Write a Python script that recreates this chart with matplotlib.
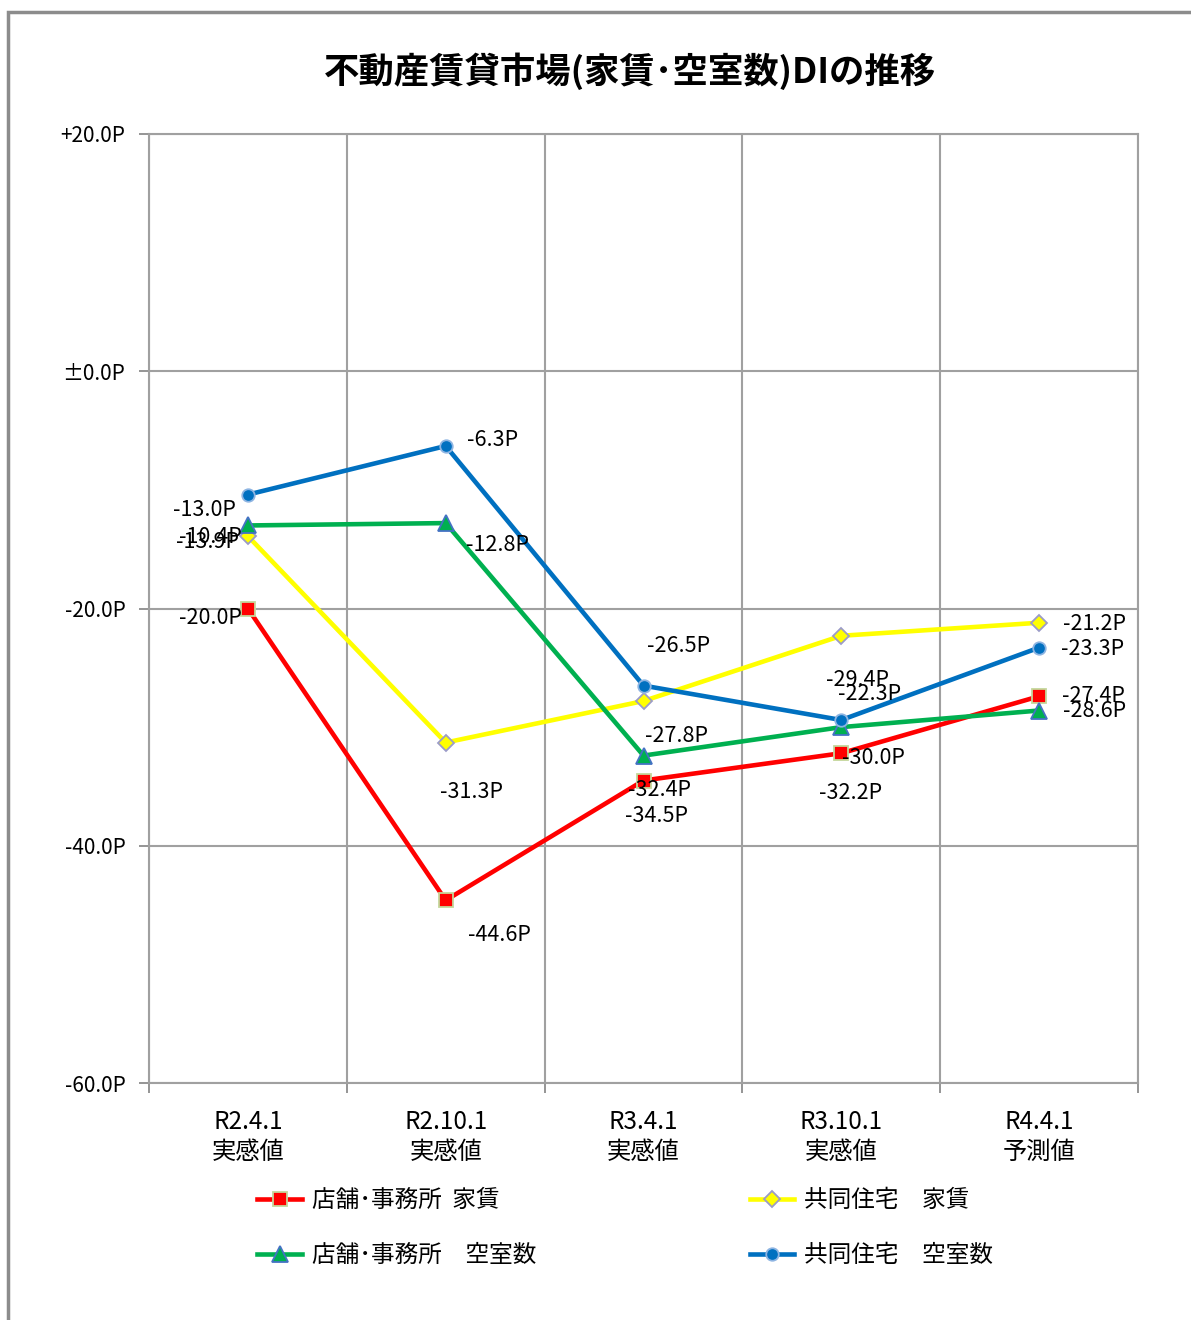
import matplotlib.pyplot as plt
from matplotlib.patches import Rectangle

plt.rcParams['font.family'] = ['Noto Sans CJK JP', 'DejaVu Sans']

# 調査時点
periods = ["R2.4.1\n実感値", "R2.10.1\n実感値", "R3.4.1\n実感値", "R3.10.1\n実感値", "R4.4.1\n予測値"]

# DI値 (ポイント)
shop_rent = [-20.0, -44.6, -34.5, -32.2, -27.4]
apt_rent = [-13.9, -31.3, -27.8, -22.3, -21.2]
shop_vacancy = [-13.0, -12.8, -32.4, -30.0, -28.6]
apt_vacancy = [-10.4, -6.3, -26.5, -29.4, -23.3]

yticks = [20, 0, -20, -40, -60]
ytick_labels = ["+20.0P", "±0.0P", "-20.0P", "-40.0P", "-60.0P"]

# ラベル位置 (点からのずらし, pixel)
shop_rent_off = [(-37, -9), (54, -35), (13, -35), (9, -40), (54, 0)]
apt_rent_off = [(-40, -6), (26, -49), (33, -35), (28, -58), (55, -1)]
shop_vac_off = [(-43, 15), (52, -22), (16, -34), (32, -31), (55, 0)]
apt_vac_off = [(-38, -42), (47, 6), (35, 40), (16, 40), (53, -1)]

fig = plt.figure(figsize=(11.91, 13.2), dpi=100)
ax = fig.add_axes([149 / 1191, 1 - 1083 / 1320, (1138 - 149) / 1191, (1083 - 134) / 1320])

# 外枠
fig.patches.append(Rectangle((8 / 1191, -0.1), 1.2, 1 - 12 / 1320 + 0.1, transform=fig.transFigure,
                             fill=False, edgecolor='#8c8c8c', linewidth=2.5, zorder=0))

x = [i + 0.5 for i in range(len(periods))]

series = [
    (shop_rent, "店舗･事務所  家賃", '#ff0000', 's', '#c4d79b', 9.5, shop_rent_off),
    (apt_rent, "共同住宅　家賃", '#ffff00', 'D', '#9b9bc8', 8, apt_rent_off),
    (shop_vacancy, "店舗･事務所　空室数", '#00b050', '^', '#4472c4', 12, shop_vac_off),
    (apt_vacancy, "共同住宅　空室数", '#0070c0', 'o', '#8db4e2', 9, apt_vac_off),
]

handles = []
for vals, label, color, marker, edge, ms, offs in series:
    h, = ax.plot(x, vals, color=color, linewidth=3.3, marker=marker, markersize=ms,
                 markerfacecolor=color, markeredgecolor=edge, markeredgewidth=1.3,
                 label=label, zorder=3)
    handles.append(h)
    for xi, v, off in zip(x, vals, offs):
        ax.annotate(f"{v:.1f}P", (xi, v), xytext=off, textcoords='offset pixels',
                    ha='center', va='center', fontsize=15.5, zorder=5)

ax.set_xlim(0, 5)
ax.set_ylim(-60, 20)
ax.set_yticks(yticks)
ax.set_yticklabels(ytick_labels, fontsize=15)
ax.set_xticks(range(6))
ax.set_xticklabels([])
ax.set_xticks(x, minor=True)
ax.set_xticklabels(periods, minor=True, fontsize=17.5, linespacing=1.2)
ax.tick_params(axis='x', which='minor', length=0, pad=19)
ax.tick_params(axis='x', which='major', length=7, color='#8c8c8c', width=1.3)
ax.tick_params(axis='y', length=7, color='#8c8c8c', width=1.3, pad=10)

ax.grid(True, which='major', color='#a0a0a0', linewidth=1.5)
ax.set_axisbelow(True)
for sp in ax.spines.values():
    sp.set_color('#a0a0a0')
    sp.set_linewidth(1.5)

fig.text(630 / 1191, 1 - 71 / 1320, "不動産賃貸市場(家賃･空室数)DIの推移", ha='center', va='center',
         fontsize=25.5, fontweight='bold')

fig.legend([handles[0], handles[2], handles[1], handles[3]],
           [series[0][1], series[2][1], series[1][1], series[3][1]],
           ncol=2, loc='center left', bbox_to_anchor=(236 / 1191, 1 - 1228 / 1320),
           frameon=False, fontsize=17, handlelength=1.9, handletextpad=0.4,
           columnspacing=9.05, labelspacing=1.35)

fig.savefig("out.png", dpi=100)
